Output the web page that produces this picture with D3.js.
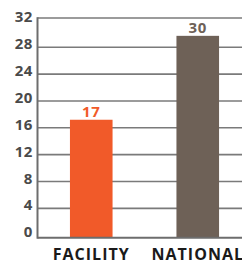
<!doctype html>
<html>
<head>
<meta charset="utf-8">
<script src="https://cdn.jsdelivr.net/npm/d3@7"></script>
<style>
  body { margin: 0; background: #fff; }
  text { font-family: "Open Sans", sans-serif; font-weight: 700; }
</style>
</head>
<body>
<script>
const categories = ["FACILITY", "NATIONAL"];
const values = [17.2, 29.7];
const valueLabels = ["17", "30"];
const colors = ["#f15a29", "#6e6157"];
const ticks = [0, 4, 8, 12, 16, 20, 24, 28, 32];

const width = 242, height = 261;
const plotLeft = 37.5, plotTop = 18, plotBottom = 237.7;

const svg = d3.select("body").append("svg")
    .attr("width", width)
    .attr("height", height);

const x = d3.scaleBand()
    .domain(categories)
    .range([38, 251])
    .paddingInner(0.6)
    .paddingOuter(0.3);

const y = d3.scaleLinear()
    .domain([0, 32])
    .range([235.2, 20.4]);

// gridlines
svg.append("g")
  .selectAll("line")
  .data(ticks.filter(t => t > 0 && t < 32))
  .join("line")
    .attr("x1", plotLeft).attr("x2", width)
    .attr("y1", d => y(d)).attr("y2", d => y(d))
    .attr("stroke", "#7a7a7a")
    .attr("stroke-width", 1.6);

// top frame
svg.append("line")
    .attr("x1", plotLeft).attr("x2", width)
    .attr("y1", plotTop).attr("y2", plotTop)
    .attr("stroke", "#7a7a7a").attr("stroke-width", 1.6);

// tick labels
svg.append("g")
  .selectAll("text")
  .data(ticks)
  .join("text")
    .attr("x", 33)
    .attr("y", d => y(d) - 2)
    .attr("text-anchor", "end")
    .attr("dominant-baseline", "middle")
    .attr("fill", "#4a4a4a")
    .style("font-size", "15px")
    .style("letter-spacing", "0.6px")
    .text(d => d);

// bars
svg.append("g")
  .selectAll("rect")
  .data(values)
  .join("rect")
    .attr("x", (d, i) => x(categories[i]))
    .attr("width", x.bandwidth())
    .attr("y", d => y(d))
    .attr("height", d => plotBottom - y(d))
    .attr("fill", (d, i) => colors[i]);

// value labels
svg.append("g")
  .selectAll("text")
  .data(values)
  .join("text")
    .attr("x", (d, i) => x(categories[i]) + x.bandwidth() / 2)
    .attr("y", d => y(d) - 3)
    .attr("text-anchor", "middle")
    .attr("fill", (d, i) => colors[i])
    .style("font-size", "15px")
    .style("letter-spacing", "0.6px")
    .text((d, i) => valueLabels[i]);

// axes
svg.append("line")
    .attr("x1", plotLeft).attr("x2", plotLeft)
    .attr("y1", plotTop - 0.8).attr("y2", plotBottom + 1)
    .attr("stroke", "#6d6d6d").attr("stroke-width", 2);
svg.append("line")
    .attr("x1", plotLeft).attr("x2", width)
    .attr("y1", plotBottom).attr("y2", plotBottom)
    .attr("stroke", "#6d6d6d").attr("stroke-width", 2);

// category labels
svg.append("g")
  .selectAll("text")
  .data(categories)
  .join("text")
    .attr("x", d => x(d) + x.bandwidth() / 2)
    .attr("y", 259.5)
    .attr("text-anchor", "middle")
    .attr("fill", "#1a1a1a")
    .style("font-size", "16px")
    .style("letter-spacing", "1px")
    .text(d => d);
</script>
</body>
</html>
